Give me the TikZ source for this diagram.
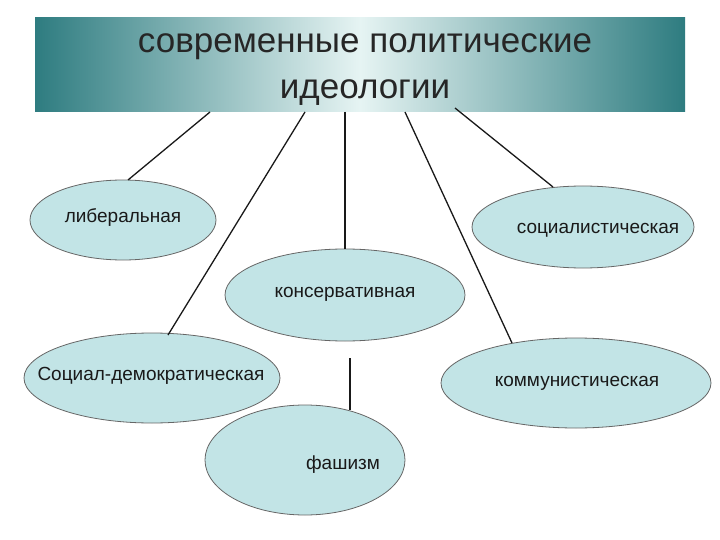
\documentclass[tikz,border=0pt]{standalone}
\usepackage{fontspec}
\setmainfont{Liberation Sans}
\usetikzlibrary{shapes.geometric}
\definecolor{ellfill}{HTML}{C2E4E6}
\definecolor{tealdark}{HTML}{2E7C80}
\definecolor{teallight}{HTML}{E6F4F3}
\tikzset{
  ell/.style={ellipse, draw=black!60, line width=0.8pt, fill=ellfill, inner sep=0pt},
  lbl/.style={font=\fontsize{19}{22}\selectfont, text=black!90},
  conn/.style={draw=black!90, line width=1.3pt}
}
\begin{document}
\begin{tikzpicture}[x=1pt,y=-1pt]
\useasboundingbox (0,0) rectangle (720,540);
\fill[white] (0,0) rectangle (720,540);
\shade[left color=tealdark, right color=tealdark, middle color=teallight] (35,18) rectangle (685,112);
\node[font=\fontsize{35}{46}\selectfont, text=black!85, align=center] (title) at (365,70) {современные политические\\идеологии};
\coordinate (t1) at (210,112);
\coordinate (t2) at (305,112);
\coordinate (t3) at (345,112);
\coordinate (t4) at (405,112);
\coordinate (t5) at (455,108);
\coordinate (f1) at (350,358);
\node[ell, minimum width=186pt, minimum height=80pt] (lib) at (123,220) {};
\node[lbl] at (123,218) {либеральная};
\node[ell, minimum width=222pt, minimum height=82pt] (soc) at (583,227) {};
\node[lbl] at (598,230) {социалистическая};
\node[ell, minimum width=240pt, minimum height=92pt] (kon) at (345,295) {};
\node[lbl] at (345,294) {консервативная};
\node[ell, minimum width=256pt, minimum height=90pt] (sd) at (152,378) {};
\node[lbl] at (151,376) {Социал-демократическая};
\node[ell, minimum width=270pt, minimum height=90pt] (kom) at (576,383) {};
\node[lbl] at (577,383) {коммунистическая};
\node[ell, minimum width=200pt, minimum height=110pt] (fas) at (305,460) {};
\node[lbl] at (343,465) {фашизм};
\coordinate (e1) at (128,180);
\coordinate (e2) at (168,335);
\coordinate (e4) at (512,343);
\coordinate (e5) at (553,187);
\draw[conn] (t1) -- (e1);
\draw[conn] (t2) -- (e2);
\draw[conn] (t3) -- (kon.north);
\draw[conn] (t4) -- (e4);
\draw[conn] (t5) -- (e5);
\draw[conn] (f1) -- (350,410) coordinate (f2);
\end{tikzpicture}
\end{document}
